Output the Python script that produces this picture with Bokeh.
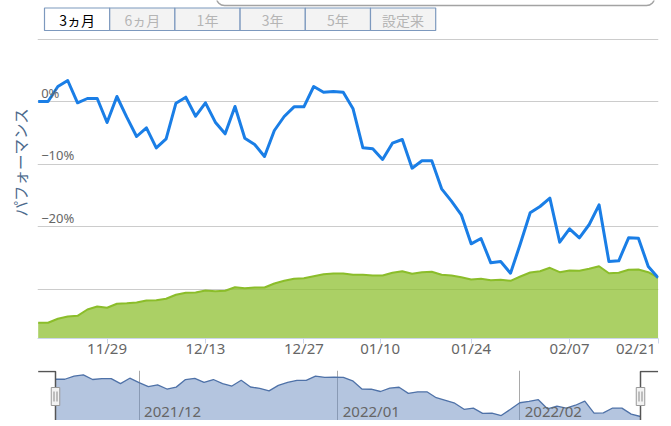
import numpy as np
import pandas as pd
from bokeh.plotting import figure
from bokeh.layouts import column
from bokeh.models import Range1d, FixedTicker, Grid, LinearAxis, Title
from bokeh.core.properties import value
from bokeh.embed import file_html
from bokeh.resources import INLINE

# ---------------- data ----------------
# Tokyo trading days shown in the 3-month window (ordinal x axis)
trade_dates = pd.bdate_range("2021-11-17", "2022-02-21", freq="C",
                             holidays=["2021-11-23", "2021-12-31", "2022-01-03",
                                       "2022-01-10", "2022-02-11"])

# performance (%) - blue line
performance = [0.00, 0.00, 2.40, 3.36, -0.21, 0.48, 0.48, -3.36, 0.80, -2.51,
               -5.60, -4.21, -7.41, -5.97, -0.27, 0.69, -2.35, -0.21, -3.31, -5.17,
               -0.80, -5.87, -6.88, -8.80, -4.64, -2.40, -0.85, -0.85, 2.40, 1.49,
               1.60, 1.49, -1.17, -7.41, -7.57, -9.28, -6.67, -6.08, -10.67, -9.49,
               -9.49, -13.97, -15.95, -18.13, -22.77, -21.92, -25.81, -25.60, -27.47, -22.77,
               -17.81, -16.80, -15.47, -22.51, -20.37, -21.81, -19.68, -16.53, -25.60, -25.49,
               -21.81, -21.87, -26.40, -28.21]

# green area series (own hidden axis)
net_assets = [7.85, 7.85, 9.85, 11.0, 11.35, 14.5, 16.0, 15.35, 17.35, 17.65,
              18.0, 19.0, 19.15, 19.85, 21.85, 22.85, 23.0, 24.0, 23.65, 23.85,
              25.65, 25.15, 25.5, 25.5, 27.5, 28.85, 29.85, 30.15, 31.15, 32.15,
              32.5, 32.5, 31.85, 31.85, 31.5, 31.5, 32.85, 33.65, 32.35, 33.15,
              33.35, 31.85, 31.5, 30.65, 29.5, 29.85, 29.15, 29.35, 28.85, 31.0,
              33.0, 33.65, 35.35, 33.15, 34.0, 33.85, 34.85, 36.15, 32.65, 32.85,
              34.35, 34.5, 33.15, 30.5]

x_tick_dates = ["2021-11-29", "2021-12-13", "2021-12-27", "2022-01-10",
                "2022-01-24", "2022-02-07", "2022-02-21"]
x_tick_labels = ["11/29", "12/13", "12/27", "01/10", "01/24", "02/07", "02/21"]

y_grid_ticks = [10, 0, -10, -20, -30]
y_label_ticks = [0, -10, -20]
y_label_texts = ["0%", "\u221210%", "\u221220%"]

nav_month_dates = ["2021-12-01", "2022-01-01", "2022-02-01"]
nav_month_labels = ["2021/12", "2022/01", "2022/02"]

range_buttons = ["3ヵ月", "6ヵ月", "1年", "3年", "5年", "設定来"]
selected_button = 0

y_title = "パフォーマンス"

# ---------------- helpers ----------------
idx = list(range(len(trade_dates)))
trade_ns = trade_dates.asi8.astype(float)


def ordinal(d):
    return float(np.interp(float(pd.Timestamp(d).value), trade_ns, idx))


x_tick_pos = [ordinal(d) for d in x_tick_dates]
nav_month_pos = [ordinal(d) for d in nav_month_dates]

# last label is kept inside the plot (right-justified like the original)
x_label_map = {p: t for p, t in zip(x_tick_pos, x_tick_labels)}
x_label_map[x_tick_pos[-1]] = x_tick_labels[-1] + "\u00a0" * 4

W = 671
FONT = "Noto Sans"
JFONT = "Noto Sans CJK JP"
L_BORDER, R_BORDER = 37, 13


def base_fig(**kw):
    p = figure(output_backend="svg", toolbar_location=None, x_axis_type=None,
               y_axis_type=None, outline_line_color=None, **kw)
    p.border_fill_color = "white"
    return p


# ---------------- top strip (buttons) ----------------
top = base_fig(width=W, height=32, x_range=Range1d(L_BORDER, W - R_BORDER), y_range=Range1d(32, 0),
               min_border_left=L_BORDER, min_border_right=R_BORDER, min_border_top=0, min_border_bottom=0)
top.quad(left=[216], right=[654], top=[-12], bottom=[5], border_radius=8,
         fill_color=None, line_color="#a3a3a3", line_width=1.5)
bx0, bw = 44.0, 65.2
lefts = [bx0 + i * bw for i in range(len(range_buttons))]
rights = [l + bw for l in lefts]
fills = ["#ffffff" if i == selected_button else "#f3f3f3" for i in range(len(range_buttons))]
tcols = ["#000000" if i == selected_button else "#b5b5b5" for i in range(len(range_buttons))]
top.quad(left=lefts, right=rights, top=[7.5] * len(lefts), bottom=[30] * len(lefts),
         fill_color=fills, line_color="#7d99be", line_width=1.2)
top.text(x=[(l + r) / 2 for l, r in zip(lefts, rights)], y=[19.5] * len(lefts), text=range_buttons,
         text_align="center", text_baseline="middle", text_color=tcols,
         text_font=value(JFONT), text_font_size="14px")

# ---------------- main chart ----------------
main = base_fig(width=W, height=334, x_range=Range1d(-0.07, 63.04),
                y_range=Range1d(-37.92, 10.08),
                min_border_left=L_BORDER, min_border_right=R_BORDER, min_border_top=6, min_border_bottom=28)
main.extra_y_ranges = {"assets": Range1d(0, 150)}

main.add_layout(Grid(dimension=1, ticker=FixedTicker(ticks=y_grid_ticks),
                     grid_line_color="#cccccc", grid_line_width=1))

main.varea(x=idx, y1=main.extra_y_ranges["assets"].start, y2=net_assets, y_range_name="assets",
           fill_color="#8fc031", fill_alpha=0.75)
main.line(x=idx, y=net_assets, y_range_name="assets", line_color="#8bbd2a", line_width=2)
main.line(x=idx, y=performance, line_color="#1a7ee6", line_width=3, line_join="round")

main.text(x=[0] * len(y_label_ticks), y=y_label_ticks, text=y_label_texts,
          x_offset=3, y_offset=0, text_baseline="bottom", text_align="left",
          text_color="#666666", text_font=value(FONT), text_font_size="13px")

xaxis = LinearAxis(ticker=FixedTicker(ticks=x_tick_pos),
                   major_label_overrides=x_label_map,
                   axis_line_color="#ccd6eb", major_tick_line_color="#ccd6eb",
                   major_tick_out=5, major_tick_in=0, minor_tick_out=0, minor_tick_in=0,
                   major_label_standoff=-6,
                   major_label_text_color="#666666", major_label_text_font=FONT,
                   major_label_text_font_size="15px")
main.add_layout(xaxis, "below")

# y-axis title on the +10% .. -30% pane (starts 122px above the frame bottom)
main.add_layout(Title(text=y_title, align="left", vertical_align="middle", offset=122, standoff=12,
                      text_font=JFONT, text_font_size="15.5px", text_font_style="normal",
                      text_color="#4d6a8c"), "left")

# ---------------- navigator ----------------
nav = base_fig(width=W, height=54, x_range=Range1d(-1.938, 64.94), y_range=Range1d(-31.24, 6.62),
               min_border_left=L_BORDER, min_border_right=R_BORDER, min_border_top=4, min_border_bottom=0)
nav.extra_x_ranges = {"px": Range1d(L_BORDER, W - R_BORDER)}
nav.extra_y_ranges = {"px": Range1d(420, 370)}

nav.add_layout(Grid(dimension=0, ticker=FixedTicker(ticks=nav_month_pos),
                    grid_line_color="#a9a9a9", grid_line_width=1))
nav.varea(x=idx, y1=nav.y_range.start, y2=performance, fill_color="#6a8cbf", fill_alpha=0.5)
nav.line(x=idx, y=performance, line_color="#4f72a8", line_width=1.3)
nav.text(x=nav_month_pos, y=[nav.y_range.start] * len(nav_month_pos), text=nav_month_labels,
         x_offset=5, y_offset=0, text_baseline="bottom", text_align="left",
         text_color="#666666", text_font=value(FONT), text_font_size="15px")

# outline + handles (page-pixel decoration)
nav.line(x=[37.7, 55, 55], y=[371, 371, 420], x_range_name="px", y_range_name="px",
         line_color="#555555", line_width=1.5)
nav.line(x=[640, 640, 657.6], y=[420, 371, 371], x_range_name="px", y_range_name="px",
         line_color="#555555", line_width=1.5)
nav.rect(x=[55, 640], y=[396, 396], width=8.5, height=18, x_range_name="px", y_range_name="px",
         fill_color="#f2f2f2", line_color="#999999", line_width=1)
nav.multi_line(xs=[[53.5, 53.5], [56.5, 56.5], [638.5, 638.5], [641.5, 641.5]],
               ys=[[391, 401]] * 4, x_range_name="px", y_range_name="px",
               line_color="#888888", line_width=1)

# ---------------- scrollbar strip ----------------
scroll = base_fig(width=W, height=6, x_range=Range1d(L_BORDER, W - R_BORDER), y_range=Range1d(426, 420),
                  min_border_left=L_BORDER, min_border_right=R_BORDER, min_border_top=0, min_border_bottom=0)
scroll.quad(left=[55], right=[640], top=[421], bottom=[430], fill_color="#fafafa",
            line_color="#cccccc", line_width=1)
scroll.quad(left=[37.7, 640], right=[55, 657.6], top=[421, 421], bottom=[430, 430],
            fill_color="#f0f0f0", line_color="#aaaaaa", line_width=1)

layout = column(top, main, nav, scroll, spacing=0)

open("out.html", "w").write(file_html(layout, INLINE))
